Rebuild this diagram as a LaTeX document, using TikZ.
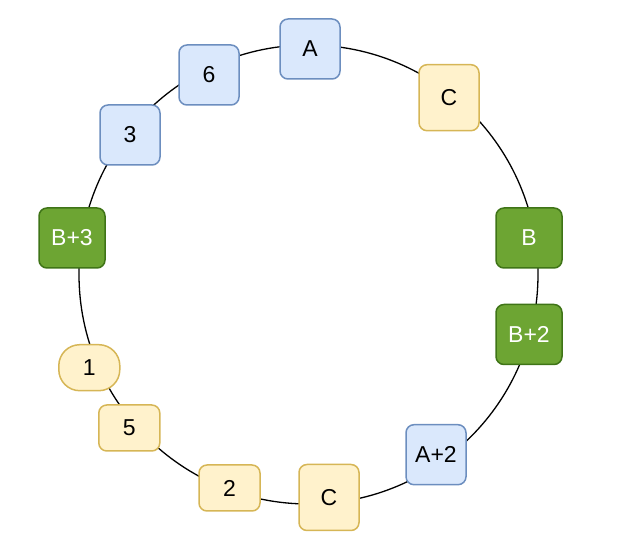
\documentclass[tikz,border=0pt]{standalone}
\usepackage{fontspec}
\setmainfont{Liberation Sans}
\definecolor{bluefill}{HTML}{DAE8FC}
\definecolor{bluedraw}{HTML}{6C8EBF}
\definecolor{yelfill}{HTML}{FFF2CC}
\definecolor{yeldraw}{HTML}{D6B656}
\definecolor{grnfill}{HTML}{6DA533}
\definecolor{grndraw}{HTML}{3F7417}
\begin{document}
\begin{tikzpicture}[x=1pt,y=-1pt,
  base/.style={rectangle,rounded corners=8pt,line width=1.5pt,inner sep=0pt,
    font=\fontsize{23}{27}\selectfont},
  bluebox/.style={base,fill=bluefill,draw=bluedraw,minimum width=60pt,minimum height=60pt},
  yelbox/.style={base,fill=yelfill,draw=yeldraw,minimum width=60pt,minimum height=66pt},
  yelsmall/.style={base,fill=yelfill,draw=yeldraw,minimum width=61pt,minimum height=46pt},
  grnbox/.style={base,fill=grnfill,draw=grndraw,text=white,minimum width=66pt,minimum height=60pt},
  ring/.style={line width=1.3pt,draw=black}]
\useasboundingbox (0,0) rectangle (622,534);
\coordinate (ctr) at (308.5,274.5);
\draw[ring] (ctr) circle[radius=229.5pt];
\node[bluebox] (A) at (310,49) {A};
\node[yelbox] (Ctop) at (449,97.7) {C};
\node[grnbox] (B) at (529,238) {B};
\node[grnbox] (B2) at (529,334.5) {B+2};
\node[bluebox] (A2) at (436,454.7) {A+2};
\node[yelbox] (Cbot) at (329,497.5) {C};
\node[yelsmall] (n2) at (229.5,488) {2};
\node[yelsmall] (n5) at (129.3,428) {5};
\node[yelsmall,rounded corners=21pt] (n1) at (89.3,367.7) {1};
\node[grnbox] (B3) at (72,238) {B+3};
\node[bluebox] (n3) at (130,135) {3};
\node[bluebox] (n6) at (209,75) {6};
\end{tikzpicture}
\end{document}
